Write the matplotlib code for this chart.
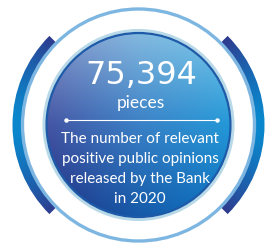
import numpy as np
import matplotlib
matplotlib.use("Agg")
import matplotlib.pyplot as plt
from matplotlib.patches import Circle, Wedge
from matplotlib.colors import to_rgb

# Contenido del gráfico
valor = "75,394"
unidad = "pieces"
descripcion = ["The number of relevant",
               "positive public opinions",
               "released by the Bank",
               "in 2020"]

# Geometría en píxeles
W, H = 265, 248
cx, cy = 138.5, 125
r_int = 96
r_anillo = 116

fig = plt.figure(figsize=(W / 100, H / 100), dpi=100)
ax = fig.add_axes([0, 0, 1, 1])
ax.set_xlim(0, W)
ax.set_ylim(H, 0)
ax.set_aspect("equal")
ax.axis("off")

# Degradado del círculo interior: rejilla 3x3 de colores interpolada
rejilla = [["#8a98cc", "#86bbe0", "#7ccbec"],
           ["#4453a2", "#3a80c6", "#2299d8"],
           ["#1d2c7e", "#1358a8", "#0a72bf"]]

def degradado(colores, n=240):
    g = np.array([[to_rgb(c) for c in fila] for fila in colores])
    t = np.linspace(0, 2, n)
    i = np.minimum(t.astype(int), 1)
    f = (t - i)[:, None]
    # interpolar filas (vertical) y luego columnas (horizontal)
    filas = g[i] * (1 - f[:, :, None]) + g[i + 1] * f[:, :, None]   # n x 3 x 3
    out = filas[:, i] * (1 - f[None, :, :]) + filas[:, i + 1] * f[None, :, :]
    return np.clip(out, 0, 1)

img = degradado(rejilla)
im = ax.imshow(img, extent=[cx - r_int, cx + r_int, cy + r_int, cy - r_int],
               zorder=2, interpolation="bilinear")
im.set_clip_path(Circle((cx, cy), r_int - 4, transform=ax.transData))

# Bordes del círculo interior
ax.add_patch(Circle((cx, cy), r_int - 1.5, fill=False, ec="#b8d9e8", lw=2.2, zorder=3))
ax.add_patch(Circle((cx, cy), r_int - 4, fill=False, ec="#1d5aa8", lw=1.6, zorder=3))

# Anillo fino exterior
ax.add_patch(Circle((cx, cy), r_anillo, fill=False, ec="#7eb6e2", lw=2.4, zorder=1.5))

# Arcos gruesos con degradado angular
def arco(theta1, theta2):
    n = 300
    xs = np.linspace(cx - 127, cx + 127, n)
    ys = np.linspace(cy - 127, cy + 127, n)
    X, Y = np.meshgrid(xs, ys)
    ang = np.degrees(np.arctan2(Y - cy, X - cx)) % 360
    mid = ((theta1 + theta2) / 2) % 360
    d = np.abs((ang - mid + 180) % 360 - 180) / ((theta2 - theta1) / 2)
    d = np.clip(d, 0, 1)[..., None]
    c_mid = np.array(to_rgb("#0a88cd"))
    c_end = np.array(to_rgb("#2f3b8e"))
    rgb = c_mid * (1 - d ** 1.5) + c_end * d ** 1.5
    a = ax.imshow(rgb, extent=[xs[0], xs[-1], ys[0], ys[-1]], origin="lower",
                  zorder=1, interpolation="bilinear")
    a.set_clip_path(Wedge((cx, cy), 126, theta1, theta2, width=10,
                          transform=ax.transData))

arco(135, 225)
arco(-45, 45)

# Textos
ax.text(141, 76, valor, ha="center", va="center", color="white",
        fontsize=23, family="DejaVu Sans", zorder=5)
ax.text(141, 103, unidad, ha="center", va="center", color="white",
        fontsize=12.5, family="Lato", zorder=5)

ax.plot([66, 217], [120, 120], color="white", lw=0.8, zorder=5)
ax.plot([66, 217], [120, 120], "o", color="white", ms=2.2, zorder=5)

for i, linea in enumerate(descripcion):
    ax.text(140, 139 + i * 20, linea, ha="center", va="center",
            color="white", fontsize=11, family="Lato", zorder=5)

fig.savefig("out.png", dpi=100)
